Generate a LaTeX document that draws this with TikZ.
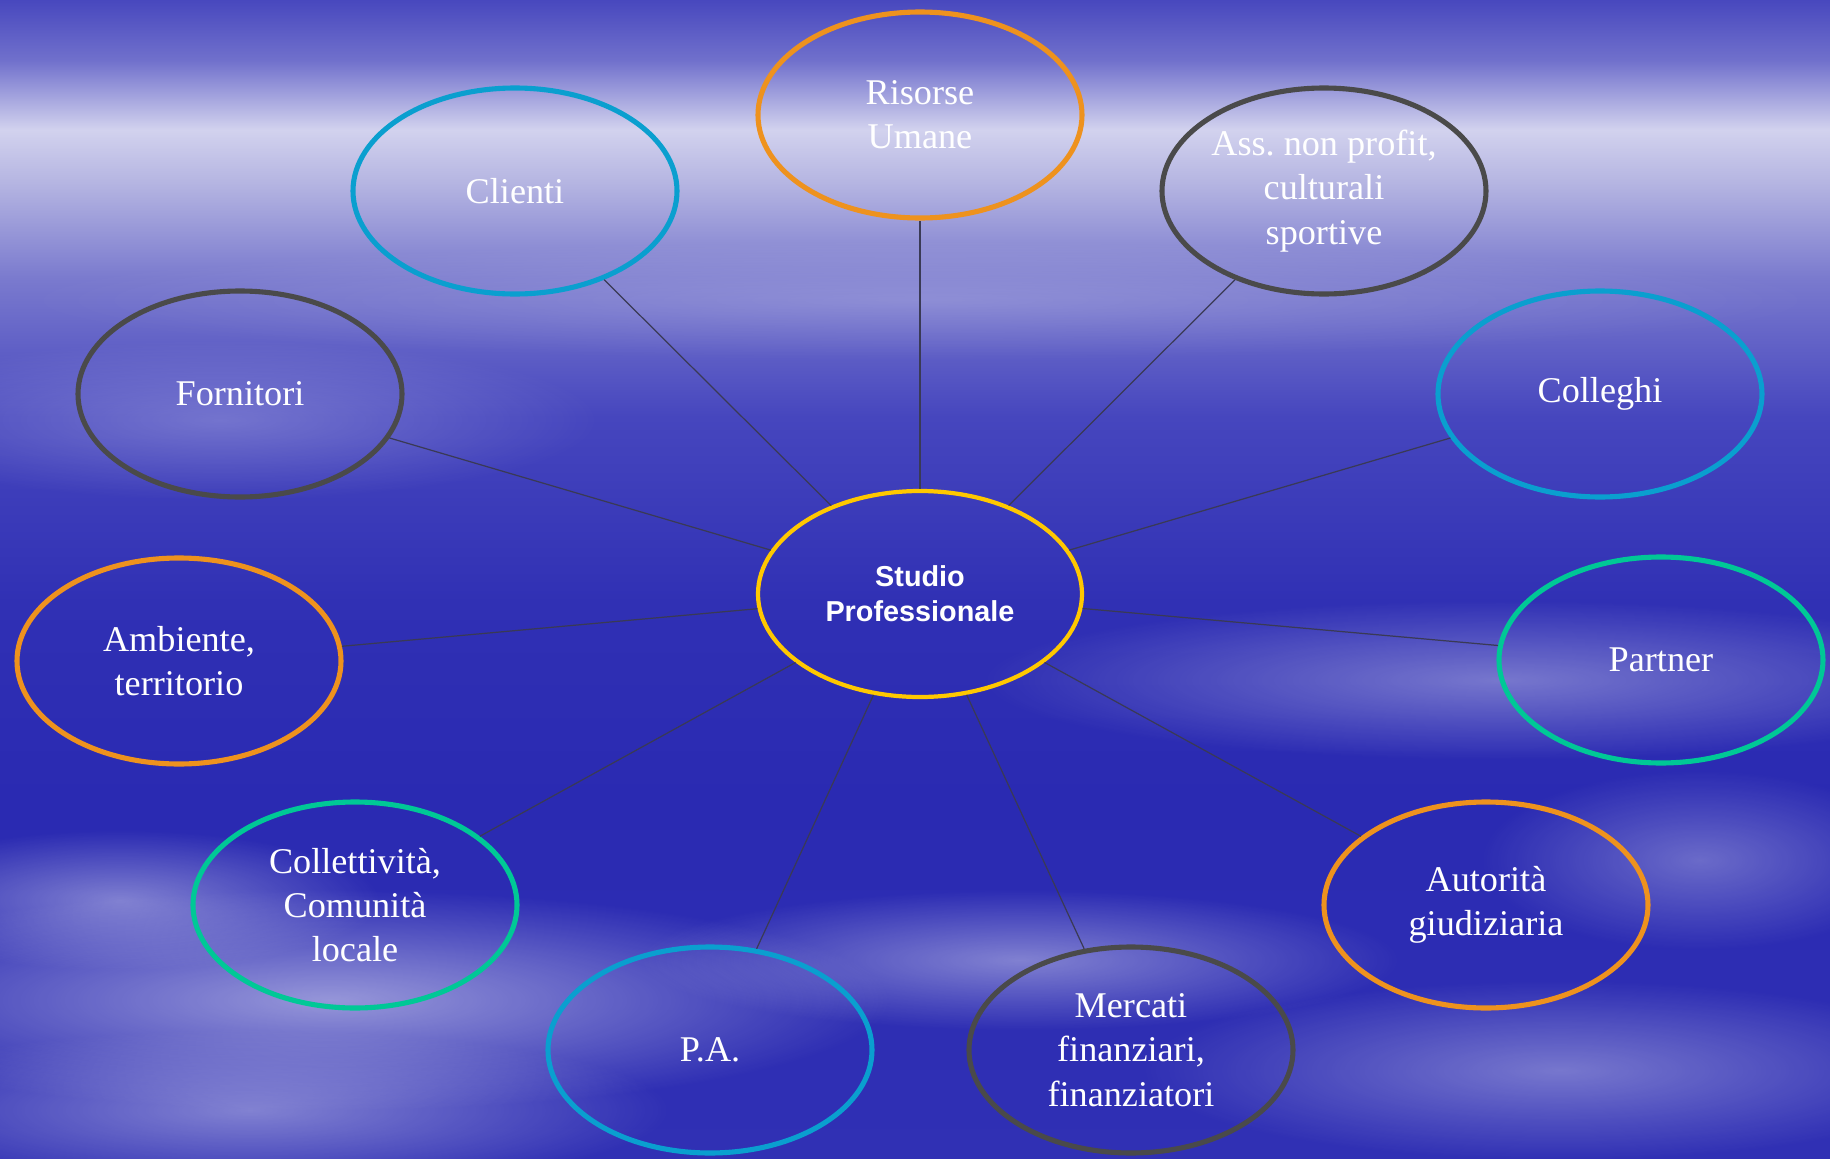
\documentclass[tikz,border=0pt]{standalone}
\usepackage{fontspec}
\setmainfont{Liberation Serif}
\setsansfont{Liberation Sans}
\usetikzlibrary{shapes.geometric,fadings}
\definecolor{arancio}{HTML}{EE921E}
\definecolor{azzurro}{HTML}{0A9FCF}
\definecolor{grigio}{HTML}{4A4A4A}
\definecolor{verde}{HTML}{00C896}
\definecolor{giallo}{HTML}{FFC800}
\definecolor{filo}{HTML}{3A3A55}
\definecolor{cA}{HTML}{3030B4}
\definecolor{cB}{HTML}{2A2AB2}
\definecolor{cC}{HTML}{3030B4}
\definecolor{cD}{HTML}{4646BE}
\definecolor{cE}{HTML}{7A7ACE}
\definecolor{cF}{HTML}{B6B6E2}
\definecolor{cG}{HTML}{D2D2EE}
\definecolor{cH}{HTML}{7070CC}
\definecolor{cI}{HTML}{4848BE}
\pgfdeclareverticalshading{cielo}{100bp}{color(0bp)=(cA); color(25bp)=(cA); color(40.5bp)=(cB); color(49bp)=(cC); color(57bp)=(cD); color(63bp)=(cE); color(67.2bp)=(cF); color(69.4bp)=(cG); color(72.4bp)=(cH); color(75bp)=(cI); color(100bp)=(cI)}
\tikzfading[name=nube, inner color=transparent!0, outer color=transparent!100]
\tikzset{
  ente/.style={ellipse, draw, line width=1.45pt, minimum width=32.4mm, minimum height=20.6mm, inner sep=0pt, text=white, align=center, font=\fontsize{10.3}{12.6}\selectfont},
  studio/.style={ente, draw=giallo, line width=1.2pt, font=\sffamily\bfseries\fontsize{8.2}{10}\selectfont},
  filo/.style={draw=filo, line width=0.35pt},
  nuvola/.style={white, opacity=#1, path fading=nube}
}
\frenchspacing
\begin{document}
\begin{tikzpicture}[x=0.1mm,y=-0.1mm]
  \useasboundingbox (0,0) rectangle (1830,1159);
  \fill[shading=cielo] (0,0) rectangle (1830,1159);
  \fill[nuvola=0.5] (330,1000) ellipse [x radius=560, y radius=110];
  \fill[nuvola=0.4] (120,900) ellipse [x radius=260, y radius=70];
  \fill[nuvola=0.4] (250,1110) ellipse [x radius=420, y radius=80];
  \fill[nuvola=0.4] (1020,960) ellipse [x radius=380, y radius=70];
  \fill[nuvola=0.35] (1500,680) ellipse [x radius=520, y radius=80];
  \fill[nuvola=0.3] (1700,860) ellipse [x radius=220, y radius=90];
  \fill[nuvola=0.35] (1560,1070) ellipse [x radius=420, y radius=90];
  \fill[nuvola=0.25] (220,420) ellipse [x radius=380, y radius=80];
  \fill[nuvola=0.2] (920,300) ellipse [x radius=900, y radius=60];

  \node[studio] (studio) at (920,594) {Studio\\Professionale};
  \node[ente, draw=arancio] (risorse) at (920,115) {Risorse\\Umane};
  \node[ente, draw=azzurro] (clienti) at (515,191) {Clienti};
  \node[ente, draw=grigio] (associazioni) at (1324,191) {Ass. non profit,\\culturali\\sportive};
  \node[ente, draw=grigio] (fornitori) at (240,394) {Fornitori};
  \node[ente, draw=azzurro] (colleghi) at (1600,394) {Colleghi};
  \node[ente, draw=arancio] (ambiente) at (179,661) {Ambiente,\\territorio};
  \node[ente, draw=verde] (partner) at (1661,660) {Partner};
  \node[ente, draw=verde] (collettivita) at (355,905) {Collettività,\\Comunità\\locale};
  \node[ente, draw=arancio] (autorita) at (1486,905) {Autorità\\giudiziaria};
  \node[ente, draw=azzurro] (pa) at (710,1050) {P.A.};
  \node[ente, draw=grigio] (mercati) at (1131,1050) {Mercati\\finanziari,\\finanziatori};

  \foreach \e in {risorse,clienti,associazioni,fornitori,colleghi,ambiente,partner,collettivita,autorita,pa,mercati}
    \draw[filo] (studio) -- (\e);
\end{tikzpicture}
\end{document}
